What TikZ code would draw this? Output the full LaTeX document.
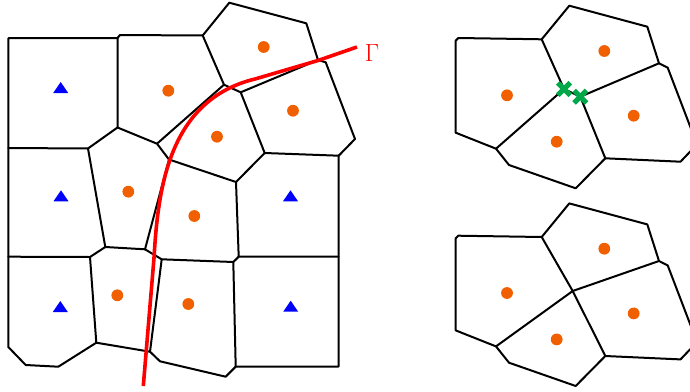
\documentclass[tikz,border=0pt]{standalone}
\usetikzlibrary{shapes.misc}
\definecolor{dotfill}{HTML}{F06000}
\definecolor{crossline}{HTML}{00A84A}
\definecolor{triafill}{HTML}{0000FF}
\definecolor{curveline}{HTML}{FF0000}

\begin{document}
\begin{tikzpicture}[
  x=1pt, y=-1pt,
  edge/.style  = {draw=black, line width=2pt, line join=round, line cap=round},
  curve/.style = {draw=curveline, line width=3.6pt},
  dot/.style   = {circle, fill=dotfill, inner sep=0pt, minimum size=11.8pt},
  tria/.style  = {fill=triafill},
  xmark/.style = {cross out, draw=crossline, line width=5pt, inner sep=0pt, minimum size=7.5pt},
  lbl/.style   = {font=\fontsize{23}{23}\selectfont, text=curveline},
]
\clip (0,0) rectangle (690,391);

% ---------- left mesh ----------
\foreach \n/\x/\y in {m1/8.5/38, m2/117.5/38, m3/120/35, m4/202.7/35.5, m5/229.3/2.7, m6/306.3/23.3,
    m7/318/60, m8/325.7/62.3, m9/355/139, m10/338.7/155.7, m11/338.5/256.7, m12/338.5/366.5,
    m13/235.7/366.7, m14/225.7/376.7, m15/160/361.3, m16/150/351.7, m17/96.3/342.7, m18/58.3/366.7,
    m19/25.7/365, m20/8.3/347, m21/8.3/256.7, m22/8.3/148, m23/88/148.5, m24/117.5/127.5,
    m25/157/143.7, m26/169/159.5, m27/224/84.7, m28/240.7/92.3, m29/264.7/153, m30/236/182,
    m31/238.7/256.7, m32/233.3/262, m33/161.7/259.3, m34/145/249.3, m35/105.3/247, m36/90/257}
  \coordinate (\n) at (\x,\y);

\draw[edge] (m1) -- (m2) -- (m3) -- (m4) -- (m5) -- (m6) -- (m7) -- (m8) -- (m9) -- (m10) -- (m11)
  -- (m12) -- (m13) -- (m14) -- (m15) -- (m16) -- (m17) -- (m18) -- (m19) -- (m20) -- (m21) -- (m22) -- cycle;
\draw[edge] (m2) -- (m24) -- (m23) -- (m22);
\draw[edge] (m24) -- (m25) -- (m26) -- (m30) -- (m29) -- (m28) -- (m27) -- (m25);
\draw[edge] (m27) -- (m4);
\draw[edge] (m28) -- (m7);
\draw[edge] (m29) -- (m10);
\draw[edge] (m30) -- (m31) -- (m11);
\draw[edge] (m31) -- (m32) -- (m33) -- (m34) -- (m26);
\draw[edge] (m32) -- (m13);
\draw[edge] (m33) -- (m16);
\draw[edge] (m34) -- (m35) -- (m23);
\draw[edge] (m35) -- (m36) -- (m21);
\draw[edge] (m36) -- (m17);

\foreach \i/\x/\y in {1/168.3/90.7, 2/128.3/191.7, 3/263.7/47, 4/293/110.7,
    5/217/136.7, 6/194.3/216, 7/117.3/295.3, 8/188.3/304}
  \node[dot] (d\i) at (\x,\y) {};

\foreach \x/\y in {60.7/93, 61/201.3, 60.3/312, 290.5/201.3, 290.7/311.7}
  \fill[tria] (\x,\y) ++(-7.5,0) -- ++(15,0) -- ++(-7.5,-11) -- cycle;

% ---------- the curve ----------
\coordinate (g0) at (143.3,386);
\coordinate (g1) at (154,258);
\coordinate (g2) at (255,79);
\coordinate (g3) at (357,47);
\draw[curve] (g0) -- (g1) .. controls (158,190) and (168,100) .. (g2) -- (318,60.5) -- (g3);
\node[lbl] (gamma) at (372,53) {$\Gamma$};

% ---------- right mesh, with the two marks ----------
\foreach \n/\x/\y in {a1/541.7/39.3, a2/569.3/5.7, a3/647.3/26.7, a4/659/63.3, a5/667.7/67.7,
    a6/697/144.4, a7/680.5/161.7, a8/605.3/158.3, a9/575.7/188.3, a10/509/165, a11/496/148.7,
    a12/455.7/132.7, a13/455.7/40.7, a14/458.3/38}
  \coordinate (\n) at (\x,\y);
\coordinate (p) at (564,89);
\coordinate (q) at (580.3,96.7);

\draw[edge] (a1) -- (a2) -- (a3) -- (a4) -- (a5) -- (a6) -- (a7) -- (a8) -- (a9) -- (a10) -- (a11)
  -- (a12) -- (a13) -- (a14) -- cycle;
\draw[edge] (a1) -- (p) -- (a11);
\draw[edge] (p) -- (q) -- (a4);
\draw[edge] (q) -- (a8);
\node[xmark] (xp) at (p) {};
\node[xmark] (xq) at (q) {};

\foreach \i/\x/\y in {1/604.3/51, 2/507/95.3, 3/633.7/115.7, 4/556.7/141.7}
  \node[dot] (e\i) at (\x,\y) {};

% ---------- right mesh, merged ----------
\begin{scope}[yshift=-197.7pt]
  \foreach \n/\x/\y in {b1/541.7/39.3, b2/569.3/5.7, b3/647.3/26.7, b4/659/63.3, b5/667.7/67.7,
      b6/697/144.4, b7/680.5/161.7, b8/605.3/158.3, b9/575.7/188.3, b10/509/165, b11/496/148.7,
      b12/455.7/132.7, b13/455.7/40.7, b14/458.3/38, c/572.7/93.3}
    \coordinate (\n) at (\x,\y);
  \draw[edge] (b1) -- (b2) -- (b3) -- (b4) -- (b5) -- (b6) -- (b7) -- (b8) -- (b9) -- (b10) -- (b11)
    -- (b12) -- (b13) -- (b14) -- cycle;
  \draw[edge] (b1) -- (c) -- (b11);
  \draw[edge] (c) -- (b4);
  \draw[edge] (c) -- (b8);
  \foreach \i/\x/\y in {1/604.3/51, 2/507/95.3, 3/633.7/115.7, 4/556.7/141.7}
    \node[dot] (f\i) at (\x,\y) {};
\end{scope}

\end{tikzpicture}
\end{document}
